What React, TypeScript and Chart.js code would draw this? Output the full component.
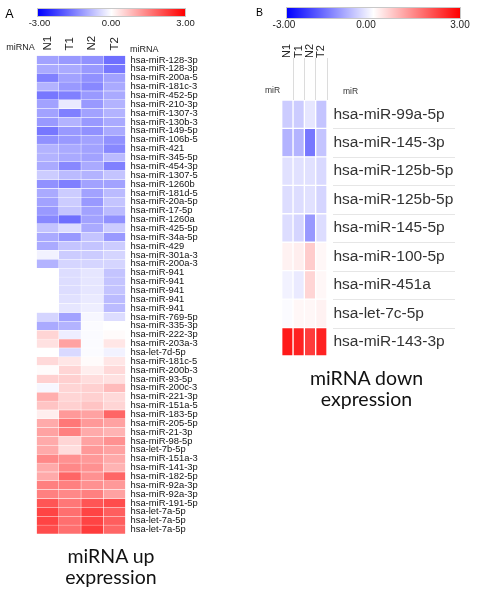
import React, { useEffect, useRef } from 'react';
import { Chart, registerables } from 'chart.js';

Chart.register(...registerables);

// ---------- DATA ----------
const samples = ['N1', 'T1', 'N2', 'T2'];
const scaleTicks = ['-3.00', '0.00', '3.00'];

const mirnaUp = [
  'hsa-miR-128-3p', 'hsa-miR-128-3p', 'hsa-miR-200a-5', 'hsa-miR-181c-3', 'hsa-miR-452-5p',
  'hsa-miR-210-3p', 'hsa-miR-1307-3', 'hsa-miR-130b-3', 'hsa-miR-149-5p', 'hsa-miR-106b-5',
  'hsa-miR-421', 'hsa-miR-345-5p', 'hsa-miR-454-3p', 'hsa-miR-1307-5', 'hsa-miR-1260b',
  'hsa-miR-181d-5', 'hsa-miR-20a-5p', 'hsa-miR-17-5p', 'hsa-miR-1260a', 'hsa-miR-425-5p',
  'hsa-miR-34a-5p', 'hsa-miR-429', 'hsa-miR-301a-3', 'hsa-miR-200a-3', 'hsa-miR-941',
  'hsa-miR-941', 'hsa-miR-941', 'hsa-miR-941', 'hsa-miR-941', 'hsa-miR-769-5p',
  'hsa-miR-335-3p', 'hsa-miR-222-3p', 'hsa-miR-203a-3', 'hsa-let-7d-5p', 'hsa-miR-181c-5',
  'hsa-miR-200b-3', 'hsa-miR-93-5p', 'hsa-miR-200c-3', 'hsa-miR-221-3p', 'hsa-miR-151a-5',
  'hsa-miR-183-5p', 'hsa-miR-205-5p', 'hsa-miR-21-3p', 'hsa-miR-98-5p', 'hsa-let-7b-5p',
  'hsa-miR-151a-3', 'hsa-miR-141-3p', 'hsa-miR-182-5p', 'hsa-miR-92a-3p', 'hsa-miR-92a-3p',
  'hsa-miR-191-5p', 'hsa-let-7a-5p', 'hsa-let-7a-5p', 'hsa-let-7a-5p',
];

const upN1 = [
  -1.1, -1.0, -1.5, -0.9, -1.6, -1.1, -1.1, -1.2, -1.6, -1.3, -0.9, -0.9, -1.0, -0.6,
  -1.3, -1.0, -1.1, -1.2, -1.4, -0.7, -1.0, -1.0, -0.15, -0.9,
  0, 0, 0, 0, 0,
  -0.5, -1.0, 0.5, 0.35, 0, 0.45, 0.05, 0.55, -0.1, 0.95, 0.7, 0.2,
  1.0, 1.1, 1.0, 1.0, 1.4, 1.0, 1.0, 1.5, 1.5, 2.0, 2.2, 2.2, 2.1,
];
const upT1 = [
  -1.2, -1.0, -1.1, -1.2, -1.5, -0.25, -1.5, -0.9, -1.2, -1.2, -1.0, -1.0, -1.4, -0.8,
  -1.5, -0.6, -0.6, -0.7, -1.7, -0.4, -1.2, -0.7, -0.6, -0.5,
  -0.4, -0.4, -0.4, -0.35, -0.3,
  -1.1, -0.9, -0.2, 1.1, -0.45, 0.3, 0.5, 0.55, 0.5, 0.5, 0.55, 1.2,
  1.6, 1.5, 0.5, 0.4, 1.3, 1.4, 1.8, 1.5, 1.4, 1.6, 1.7, 1.7, 1.7,
];
const upN2 = [
  -1.3, -1.2, -1.3, -1.4, -1.2, -1.2, -1.1, -1.2, -1.3, -1.1, -1.1, -1.1, -1.0, -0.9,
  -1.1, -1.1, -1.2, -1.1, -1.1, -1.0, -0.7, -0.7, -0.6, -0.5,
  -0.3, -0.3, -0.3, -0.25, -0.2,
  -0.1, -0.05, -0.05, -0.05, -0.05, 0.05, 0.2, 0.4, 0.55, 0.55, 0.7, 1.1,
  1.2, 1.0, 1.1, 1.2, 1.2, 1.3, 1.3, 1.3, 1.5, 2.0, 2.2, 2.2, 2.3,
];
const upT2 = [
  -1.7, -1.6, -1.1, -1.0, -1.0, -0.9, -0.9, -1.0, -1.0, -1.3, -1.4, -0.8, -1.5, -0.7,
  -1.1, -0.8, -0.7, -0.8, -1.3, -0.6, -1.2, -0.6, -0.5, -0.5,
  -0.7, -0.7, -0.7, -0.8, -0.8,
  -0.4, 0, 0.05, 0.3, -0.15, 0.3, 0.45, 0.35, 0.8, 0.45, 0.5, 1.8,
  1.1, 0.9, 1.3, 1.1, 1.0, 0.9, 1.8, 1.2, 1.1, 2.1, 1.9, 1.9, 1.8,
];

const mirnaDown = [
  'hsa-miR-99a-5p', 'hsa-miR-145-3p', 'hsa-miR-125b-5p', 'hsa-miR-125b-5p', 'hsa-miR-145-5p',
  'hsa-miR-100-5p', 'hsa-miR-451a', 'hsa-let-7c-5p', 'hsa-miR-143-3p',
];
const downN1 = [-0.6, -0.9, -0.35, -0.4, -0.4, 0.15, -0.15, -0.05, 2.7];
const downT1 = [-0.6, -0.9, -0.35, -0.4, -0.5, 0.2, -0.25, 0.1, 2.6];
const downN2 = [-0.3, -1.6, -0.35, -0.35, -1.2, 0.6, 0.5, 0.1, 2.3];
const downT2 = [-0.7, -0.7, -0.45, -0.5, -0.4, 0.1, 0.1, 0.15, 2.6];

// ---------- HELPERS ----------
function heat(v: number): string {
  const t = Math.min(Math.abs(v) / 3, 1);
  const c = Math.round(255 * (1 - t));
  return v < 0 ? `rgb(${c},${c},255)` : `rgb(255,${c},${c})`;
}

const rowRules = {
  id: 'rowRules',
  afterDraw(chart: any, _args: any, opts: any) {
    if (!opts || !opts.enabled) return;
    const y = chart.scales.y;
    const { ctx, chartArea } = chart;
    ctx.save();
    ctx.strokeStyle = opts.color;
    ctx.lineWidth = 1;
    for (let i = 0; i < y.ticks.length - 1; i++) {
      const py = Math.round((y.getPixelForTick(i) + y.getPixelForTick(i + 1)) / 2) + 0.5;
      ctx.beginPath();
      ctx.moveTo(chartArea.right + opts.from, py);
      ctx.lineTo(chartArea.right + opts.to, py);
      ctx.stroke();
    }
    ctx.restore();
  },
};

type PanelProps = {
  labels: string[];
  series: number[][];
  left: number;
  width: number;
  height: number;
  pad: { left: number; bottom: number };
  headerH: number;
  axisW: number;
  cellBorder: number;
  labelFont: number;
  labelColor: string;
  labelPad: number;
  headFont: number;
  headPad: number;
  headTicks: number;
  rules: boolean;
};

function HeatPanel(p: PanelProps) {
  const ref = useRef<HTMLCanvasElement | null>(null);
  useEffect(() => {
    if (!ref.current) return;
    const chart = new Chart(ref.current, {
      type: 'bar',
      data: {
        labels: p.labels,
        datasets: samples.map((s, i) => ({
          label: s,
          data: p.series[i].map(() => 1),
          backgroundColor: p.series[i].map(heat),
          borderColor: '#ffffff',
          borderWidth: p.cellBorder,
          borderSkipped: false,
          barPercentage: 1,
          categoryPercentage: 1,
          xAxisID: 'x',
          yAxisID: 'y',
        })),
      },
      options: {
        indexAxis: 'y',
        responsive: false,
        animation: false,
        layout: { padding: { left: p.pad.left, right: 0, top: 0, bottom: p.pad.bottom } },
        plugins: {
          legend: { display: false },
          tooltip: { enabled: false },
          rowRules: { enabled: p.rules, color: '#e6e6e6', from: 6, to: 128 },
        } as any,
        scales: {
          x: { type: 'linear', stacked: true, min: 0, max: 4, display: false },
          x2: {
            type: 'category',
            labels: samples,
            position: 'top',
            offset: true,
            border: { display: false },
            grid: {
              display: true,
              offset: true,
              drawOnChartArea: false,
              drawTicks: p.headTicks > 0,
              tickLength: p.headTicks,
              color: (c: any) =>
                p.headTicks > 0 && c.index !== 0 ? '#dcdcdc' : 'rgba(0,0,0,0)',
              lineWidth: 1,
            },
            ticks: {
              autoSkip: false,
              minRotation: 90,
              maxRotation: 90,
              padding: p.headPad,
              labelOffset: p.headFont * 1.2,
              color: '#222',
              font: { family: 'Arial, "Liberation Sans", sans-serif', size: p.headFont },
            },
            afterFit: (s: any) => {
              s.height = p.headerH;
            },
          },
          y: {
            type: 'category',
            position: 'right',
            stacked: true,
            offset: true,
            border: { display: false },
            grid: { display: false, drawTicks: false },
            ticks: {
              autoSkip: false,
              padding: p.labelPad,
              color: p.labelColor,
              font: { family: 'Arial, "Liberation Sans", sans-serif', size: p.labelFont },
            },
            afterFit: (s: any) => {
              s.width = p.axisW;
            },
          },
        } as any,
      },
      plugins: [rowRules as any],
    });
    return () => chart.destroy();
  }, []);
  return (
    <canvas
      ref={ref}
      width={p.width}
      height={p.height}
      style={{ position: 'absolute', left: p.left, top: 0, width: p.width, height: p.height }}
    />
  );
}

function Txt(props: {
  x: number;
  y: number;
  size: number;
  children: React.ReactNode;
  align?: 'center' | 'left';
  color?: string;
  family?: string;
}) {
  const align = props.align || 'center';
  return (
    <div
      style={{
        position: 'absolute',
        left: props.x,
        top: props.y,
        transform: align === 'center' ? 'translate(-50%, -50%)' : 'translate(0, -50%)',
        fontSize: props.size,
        lineHeight: 1,
        whiteSpace: 'nowrap',
        color: props.color || '#111',
        fontFamily: props.family || 'Arial, "Liberation Sans", sans-serif',
      }}
    >
      {props.children}
    </div>
  );
}

function ColorBar(props: { x: number; y: number; w: number; h: number }) {
  return (
    <div
      style={{
        position: 'absolute',
        left: props.x,
        top: props.y,
        width: props.w,
        height: props.h,
        boxSizing: 'border-box',
        border: '1px solid #c8c8c8',
        background: 'linear-gradient(to right, #0000ff, #ffffff 50%, #ff0000)',
      }}
    />
  );
}

const titleStyle: React.CSSProperties = {
  position: 'absolute',
  fontFamily: 'Lato, "Open Sans", sans-serif',
  fontSize: 19.5,
  lineHeight: '21px',
  color: '#111',
  textAlign: 'center',
  width: 200,
};

export default function App() {
  return (
    <div
      style={{
        position: 'fixed',
        left: 0,
        top: 0,
        width: 480,
        height: 600,
        background: '#ffffff',
        overflow: 'hidden',
      }}
    >
      {/* Panel A */}
      <HeatPanel
        labels={mirnaUp}
        series={[upN1, upT1, upN2, upT2]}
        left={0}
        width={240}
        height={600}
        pad={{ left: 36.5, bottom: 66 }}
        headerH={55.6}
        axisW={114.5}
        cellBorder={0.5}
        labelFont={9.4}
        labelColor="#111"
        labelPad={5}
        headFont={11.5}
        headPad={5}
        headTicks={0}
        rules={false}
      />
      {/* Panel B */}
      <HeatPanel
        labels={mirnaDown}
        series={[downN1, downT1, downN2, downT2]}
        left={240}
        width={240}
        height={600}
        pad={{ left: 41.7, bottom: 244 }}
        headerH={100}
        axisW={153}
        cellBorder={1}
        labelFont={15.5}
        labelColor="#333"
        labelPad={6.5}
        headFont={11}
        headPad={0}
        headTicks={42}
        rules={true}
      />

      {/* Panel A decorations */}
      <Txt x={9.5} y={13.6} size={12.5} color="#000">A</Txt>
      <ColorBar x={37} y={7.5} w={149} h={9} />
      <Txt x={39.5} y={22.7} size={9.5} color="#222">{scaleTicks[0]}</Txt>
      <Txt x={111} y={22.7} size={9.5} color="#222">{scaleTicks[1]}</Txt>
      <Txt x={185.5} y={22.7} size={9.5} color="#222">{scaleTicks[2]}</Txt>
      <Txt x={20.5} y={46.7} size={9} color="#222">miRNA</Txt>
      <Txt x={130} y={49} size={9} color="#222" align="left">miRNA</Txt>
      <div style={{ ...titleStyle, left: 11, top: 545 }}>
        miRNA up
        <br />
        expression
      </div>

      {/* Panel B decorations */}
      <Txt x={259.5} y={12} size={10.5} color="#000">B</Txt>
      <ColorBar x={285.7} y={7.3} w={175} h={11.7} />
      <Txt x={284} y={25} size={10} color="#222">{scaleTicks[0]}</Txt>
      <Txt x={366} y={25} size={10} color="#222">{scaleTicks[1]}</Txt>
      <Txt x={460} y={25} size={10} color="#222">{scaleTicks[2]}</Txt>
      <Txt x={272.5} y={90} size={8.5} color="#333">miR</Txt>
      <Txt x={350.5} y={91} size={8.5} color="#333">miR</Txt>
      <div style={{ ...titleStyle, left: 266.5, top: 367 }}>
        miRNA down
        <br />
        expression
      </div>
    </div>
  );
}
